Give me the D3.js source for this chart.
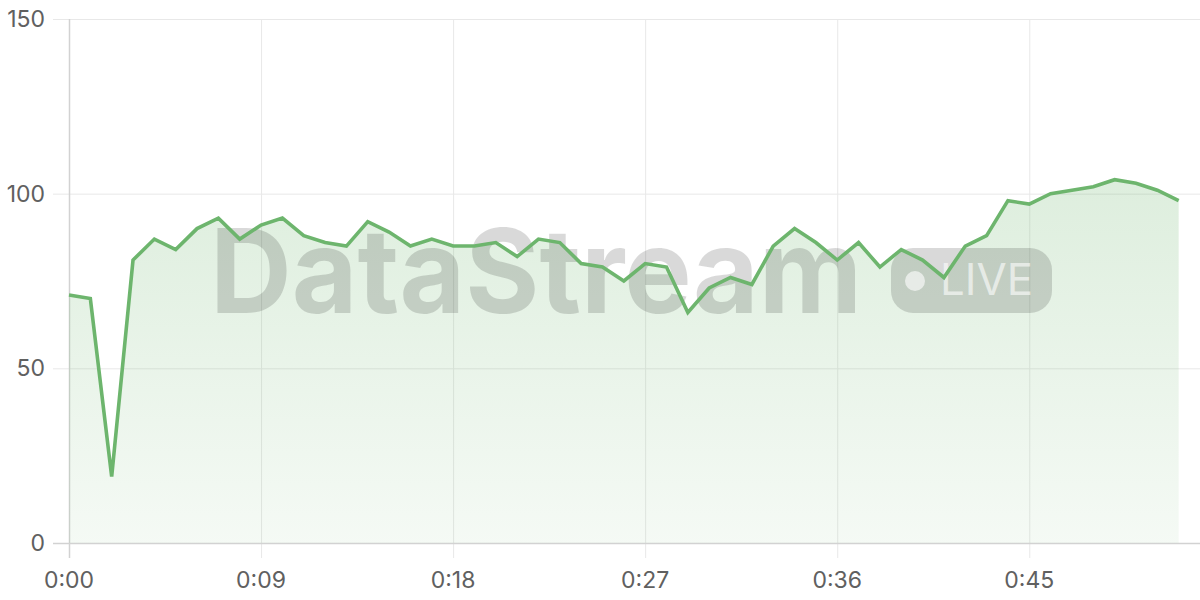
<!DOCTYPE html>
<html>
<head>
<meta charset="utf-8">
<script src="https://cdn.jsdelivr.net/npm/d3@7"></script>
<style>
	html, body { margin: 0; padding: 0; background: #fff; }
	#viz-stream { display: block; font-family: Inter, "Noto Sans", sans-serif; }
	.grid line { stroke: #e8e8e8; stroke-width: 1; }
	.tick-label { fill: #606060; font-size: 23px; }
</style>
</head>
<body>
<svg id="viz-stream" width="1200" height="600"></svg>
<script>

// Seconds since start, one sample per second.
var seconds = d3.range( 0, 53 );

// Samples.
var values = [
	71, 70, 19, 81, 87, 84, 90, 93, 87, 91,
	93, 88, 86, 85, 92, 89, 85, 87, 85, 85,
	86, 82, 87, 86, 80, 79, 75, 80, 79, 66,
	73, 76, 74, 85, 90, 86, 81, 86, 79, 84,
	81, 76, 85, 88, 98, 97, 100, 101, 102, 104,
	103, 101, 98
];

var xTicks = [ 0, 9, 18, 27, 36, 45 ];
var yTicks = [ 0, 50, 100, 150 ];

window.streamViz = {

	_padding: {
		top: 19,
		right: 0,
		bottom: 57,
		left: 69
	},

	_color: '#6db56d',

	/**
	 * @private
	 * Bind svg and set up scales.
	 */
	_bindSvg: function () {

		this._svg = d3.select( '#viz-stream' );
		this._width = +this._svg.attr( 'width' );
		this._height = +this._svg.attr( 'height' );

		this._x = d3.scaleLinear()
			.domain( [ 0, 53 ] )
			.range( [ this._padding.left, this._width - this._padding.right ] );

		this._y = d3.scaleLinear()
			.domain( [ 0, 150 ] )
			.range( [ this._height - this._padding.bottom, this._padding.top ] );

	},

	/**
	 * @private
	 * Grid lines, axis lines and tick labels.
	 */
	_createGrid: function () {

		var x = this._x, y = this._y;
		var grid = this._svg.append( 'g' ).classed( 'grid', true );

		grid.selectAll( 'line.h' )
			.data( yTicks.filter( function ( d ) { return d > 0; } ) )
			.enter()
			.append( 'line' )
			.classed( 'h', true )
			.attr( 'x1', x.range()[0] - 16 )
			.attr( 'x2', x.range()[1] )
			.attr( 'y1', function ( d ) { return y( d ) + 0.5; } )
			.attr( 'y2', function ( d ) { return y( d ) + 0.5; } );

		grid.selectAll( 'line.v' )
			.data( xTicks.filter( function ( d ) { return d > 0; } ) )
			.enter()
			.append( 'line' )
			.classed( 'v', true )
			.attr( 'x1', function ( d ) { return x( d ) + 0.5; } )
			.attr( 'x2', function ( d ) { return x( d ) + 0.5; } )
			.attr( 'y1', y.range()[1] )
			.attr( 'y2', y.range()[0] + 15 );

		// Axis lines are a touch darker.
		this._svg.append( 'line' )
			.attr( 'x1', x.range()[0] - 16 )
			.attr( 'x2', x.range()[1] )
			.attr( 'y1', y( 0 ) + 0.5 )
			.attr( 'y2', y( 0 ) + 0.5 )
			.attr( 'stroke', '#d2d2d2' )
			.attr( 'stroke-width', 1.5 );

		this._svg.append( 'line' )
			.attr( 'x1', x( 0 ) + 0.5 )
			.attr( 'x2', x( 0 ) + 0.5 )
			.attr( 'y1', y.range()[1] )
			.attr( 'y2', y( 0 ) + 15 )
			.attr( 'stroke', '#d2d2d2' )
			.attr( 'stroke-width', 1.5 );

		this._svg.selectAll( 'text.y-label' )
			.data( yTicks )
			.enter()
			.append( 'text' )
			.classed( 'tick-label', true )
			.attr( 'x', x.range()[0] - 24 )
			.attr( 'y', function ( d ) { return y( d ) + 8; } )
			.attr( 'text-anchor', 'end' )
			.text( function ( d ) { return d; } );

		this._svg.selectAll( 'text.x-label' )
			.data( xTicks )
			.enter()
			.append( 'text' )
			.classed( 'tick-label', true )
			.attr( 'x', function ( d ) { return x( d ); } )
			.attr( 'y', y( 0 ) + 45 )
			.attr( 'text-anchor', 'middle' )
			.text( function ( d ) { return '0:' + d3.format( '02' )( d ); } );

	},

	/**
	 * @private
	 * Faded area under the line.
	 */
	_createArea: function () {

		var x = this._x, y = this._y;

		var grad = this._svg.append( 'defs' ).append( 'linearGradient' )
			.attr( 'id', 'area-fill' )
			.attr( 'gradientUnits', 'userSpaceOnUse' )
			.attr( 'x1', 0 ).attr( 'x2', 0 )
			.attr( 'y1', y.range()[1] ).attr( 'y2', y.range()[0] );
		grad.append( 'stop' ).attr( 'offset', 0 ).attr( 'stop-color', this._color ).attr( 'stop-opacity', 0.3 );
		grad.append( 'stop' ).attr( 'offset', 1 ).attr( 'stop-color', this._color ).attr( 'stop-opacity', 0.07 );

		var area = d3.area()
			.x( function ( d ) { return x( d ); } )
			.y0( y( 0 ) )
			.y1( function ( d, i ) { return y( values[i] ); } );

		this._svg.append( 'path' )
			.datum( seconds )
			.attr( 'd', area )
			.attr( 'fill', 'url(#area-fill)' );

	},

	/**
	 * @private
	 * The "DataStream LIVE" watermark.
	 */
	_createWatermark: function () {

		var g = this._svg.append( 'g' ).style( 'pointer-events', 'none' );

		g.append( 'text' )
			.attr( 'x', 210 )
			.attr( 'y', 313 )
			.attr( 'textLength', 652 )
			.attr( 'lengthAdjust', 'spacingAndGlyphs' )
			.style( 'font-size', '117px' )
			.style( 'font-weight', 700 )
			.attr( 'fill', '#000' )
			.attr( 'fill-opacity', 0.15 )
			.text( 'DataStream' );

		g.append( 'rect' )
			.attr( 'x', 891 )
			.attr( 'y', 248 )
			.attr( 'width', 161 )
			.attr( 'height', 65 )
			.attr( 'rx', 22 )
			.attr( 'fill', '#000' )
			.attr( 'fill-opacity', 0.15 );

		g.append( 'circle' )
			.attr( 'cx', 915 )
			.attr( 'cy', 281 )
			.attr( 'r', 10 )
			.attr( 'fill', '#fff' )
			.attr( 'fill-opacity', 0.6 );

		g.append( 'text' )
			.attr( 'x', 940 )
			.attr( 'y', 295 )
			.attr( 'textLength', 93 )
			.attr( 'lengthAdjust', 'spacingAndGlyphs' )
			.style( 'font-size', '44px' )
			.attr( 'fill', '#fff' )
			.attr( 'fill-opacity', 0.6 )
			.text( 'LIVE' );

	},

	/**
	 * @private
	 */
	_createLine: function () {

		var x = this._x, y = this._y;

		var line = d3.line()
			.x( function ( d ) { return x( d ); } )
			.y( function ( d, i ) { return y( values[i] ); } );

		this._svg.append( 'path' )
			.datum( seconds )
			.attr( 'd', line )
			.attr( 'fill', 'none' )
			.attr( 'stroke', this._color )
			.attr( 'stroke-width', 3.6 )
			.attr( 'stroke-linejoin', 'miter' );

	},

	on: function () {
		this._bindSvg();
		this._createGrid();
		this._createArea();
		this._createWatermark();
		this._createLine();
	}

};

window.streamViz.on();
</script>
</body>
</html>
